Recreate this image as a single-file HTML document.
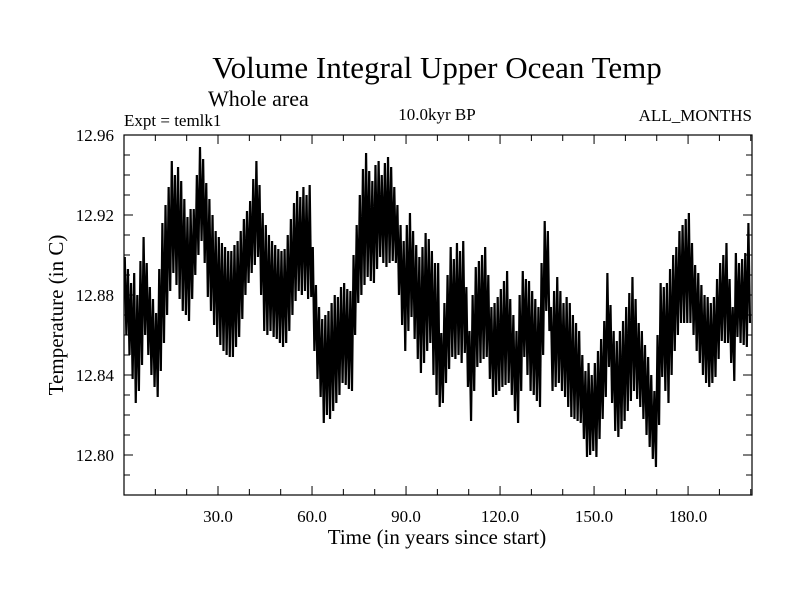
<!DOCTYPE html>
<html><head><meta charset="utf-8"><style>
body{margin:0;background:#fff}
svg text{font-family:"Liberation Serif",serif;fill:#000}
</style></head><body>
<svg id="chart" width="800" height="600" viewBox="0 0 800 600">
<rect width="800" height="600" fill="#fff"/>
<text x="437" y="78" text-anchor="middle" font-size="31">Volume Integral Upper Ocean Temp</text>
<text x="208" y="106" font-size="22">Whole area</text>
<text x="124" y="126" font-size="17">Expt = temlk1</text>
<text x="437" y="120" text-anchor="middle" font-size="17">10.0kyr BP</text>
<text x="752" y="121" text-anchor="end" font-size="17">ALL_MONTHS</text>
<text transform="translate(63,315) rotate(-90)" text-anchor="middle" font-size="21">Temperature (in C)</text>
<text x="437" y="544" text-anchor="middle" font-size="21">Time (in years since start)</text>
<g id="axes"></g>
<polyline id="series" fill="none" stroke="#000" stroke-width="2.2" stroke-linejoin="miter"/>
<rect x="124" y="135" width="628" height="360" fill="none" stroke="#000" stroke-width="1.2"/>
</svg>
<script>
const xTicks = [30, 60, 90, 120, 150, 180];
const xTickLabels = ["30.0", "60.0", "90.0", "120.0", "150.0", "180.0"];
const yTicks = [12.80, 12.84, 12.88, 12.92, 12.96];
const yTickLabels = ["12.80", "12.84", "12.88", "12.92", "12.96"];
const annualHigh = [
12.899,12.893,12.886,12.891,12.880,12.897,12.909,12.896,12.884,12.878,
12.871,12.893,12.916,12.925,12.934,12.947,12.940,12.944,12.937,12.928,
12.919,12.923,12.923,12.940,12.954,12.948,12.936,12.928,12.920,12.912,
12.909,12.906,12.904,12.902,12.902,12.905,12.907,12.912,12.918,12.922,
12.927,12.938,12.947,12.935,12.921,12.915,12.910,12.907,12.905,12.903,
12.902,12.903,12.910,12.918,12.926,12.932,12.929,12.934,12.930,12.935,
12.904,12.885,12.874,12.868,12.870,12.872,12.876,12.880,12.879,12.884,
12.886,12.883,12.882,12.900,12.915,12.930,12.943,12.951,12.942,12.937,
12.945,12.947,12.940,12.946,12.949,12.944,12.934,12.925,12.915,12.907,
12.915,12.921,12.912,12.905,12.899,12.904,12.911,12.908,12.902,12.896,
12.896,12.861,12.876,12.890,12.904,12.898,12.906,12.902,12.907,12.884,
12.862,12.880,12.894,12.897,12.900,12.904,12.890,12.874,12.876,12.879,
12.883,12.887,12.892,12.878,12.870,12.862,12.880,12.892,12.888,12.887,
12.882,12.878,12.874,12.896,12.917,12.912,12.874,12.882,12.889,12.882,
12.876,12.879,12.876,12.870,12.866,12.862,12.850,12.842,12.846,12.840,
12.846,12.852,12.858,12.867,12.891,12.875,12.862,12.857,12.862,12.867,
12.874,12.881,12.889,12.878,12.866,12.862,12.855,12.849,12.840,12.832,
12.860,12.886,12.884,12.886,12.893,12.900,12.904,12.912,12.915,12.918,
12.921,12.906,12.895,12.891,12.885,12.880,12.879,12.876,12.879,12.888,
12.896,12.900,12.906,12.888,12.874,12.901,12.896,12.898,12.901,12.916];
const annualLow = [
12.860,12.850,12.838,12.826,12.832,12.845,12.860,12.850,12.840,12.834,
12.829,12.842,12.856,12.870,12.882,12.891,12.885,12.878,12.872,12.870,
12.867,12.878,12.890,12.900,12.907,12.896,12.879,12.872,12.865,12.859,
12.855,12.852,12.850,12.849,12.849,12.854,12.859,12.868,12.880,12.886,
12.891,12.895,12.899,12.880,12.862,12.860,12.862,12.859,12.858,12.856,
12.854,12.856,12.862,12.870,12.877,12.882,12.880,12.882,12.878,12.879,
12.852,12.838,12.829,12.816,12.820,12.818,12.822,12.826,12.830,12.836,
12.835,12.833,12.832,12.860,12.876,12.880,12.885,12.889,12.887,12.886,
12.893,12.899,12.896,12.894,12.896,12.897,12.896,12.880,12.865,12.852,
12.862,12.869,12.858,12.848,12.841,12.846,12.852,12.856,12.840,12.830,
12.824,12.826,12.836,12.843,12.849,12.848,12.850,12.846,12.851,12.834,
12.817,12.832,12.844,12.846,12.848,12.849,12.838,12.829,12.830,12.832,
12.834,12.835,12.836,12.830,12.822,12.816,12.832,12.849,12.840,12.832,
12.830,12.827,12.824,12.850,12.872,12.862,12.832,12.834,12.836,12.832,
12.829,12.824,12.819,12.818,12.817,12.816,12.808,12.799,12.800,12.802,
12.799,12.808,12.818,12.829,12.844,12.826,12.812,12.809,12.813,12.817,
12.822,12.827,12.832,12.828,12.824,12.818,12.810,12.804,12.798,12.794,
12.815,12.839,12.832,12.826,12.840,12.852,12.860,12.866,12.866,12.866,
12.866,12.860,12.852,12.846,12.840,12.836,12.834,12.836,12.839,12.848,
12.857,12.856,12.856,12.846,12.837,12.859,12.856,12.855,12.854,12.866];

const X0=124, X1=752, Y0=495, Y1=135, XMIN=0, XMAX=200.4, YMIN=12.78, YMAX=12.96;
function sx(v){return X0+(v-XMIN)/(XMAX-XMIN)*(X1-X0);}
function sy(v){return Y0-(v-YMIN)/(YMAX-YMIN)*(Y0-Y1);}
const NS='http://www.w3.org/2000/svg';
const axes=document.getElementById('axes');
function line(x1,y1,x2,y2,name){
  const l=document.createElementNS(NS,'line');
  l.setAttribute('x1',x1);l.setAttribute('y1',y1);l.setAttribute('x2',x2);l.setAttribute('y2',y2);
  l.setAttribute('stroke','#000');l.setAttribute('stroke-width','1');
  
  
  axes.appendChild(l);
}
function text(x,y,s,anchor,name){
  const t=document.createElementNS(NS,'text');
  t.setAttribute('x',x);t.setAttribute('y',y);t.setAttribute('text-anchor',anchor);t.setAttribute('font-size','17');
  t.textContent=s;
  
  
  axes.appendChild(t);
}
for(let v=10; v<=200; v+=10){
  const major = v%30===0, len = major?9:6, x=sx(v);
  line(x,Y0,x,Y0-len,'x-tick');
  line(x,Y1,x,Y1+len,'x-tick-top');
}
xTicks.forEach((v,i)=>{ text(sx(v),522,xTickLabels[i],'middle','x-tick-label'); });
for(let k=0;k<=18;k++){
  const v=YMIN+k*0.01, major=(k%4===2), len=major?9:6, y=sy(v);
  line(X0,y,X0+len,y,'y-tick');
  line(X1,y,X1-len,y,'y-tick-right');
}
yTicks.forEach((v,i)=>{ text(114,sy(v)+6,yTickLabels[i],'end','y-tick-label'); });
const pts=[];
for(let i=0;i<annualHigh.length;i++){
  pts.push(sx(i+0.25).toFixed(2)+','+sy(annualHigh[i]).toFixed(2));
  pts.push(sx(i+0.75).toFixed(2)+','+sy(annualLow[i]).toFixed(2));
}
document.getElementById('series').setAttribute('points',pts.join(' '));
</script>
</body></html>
